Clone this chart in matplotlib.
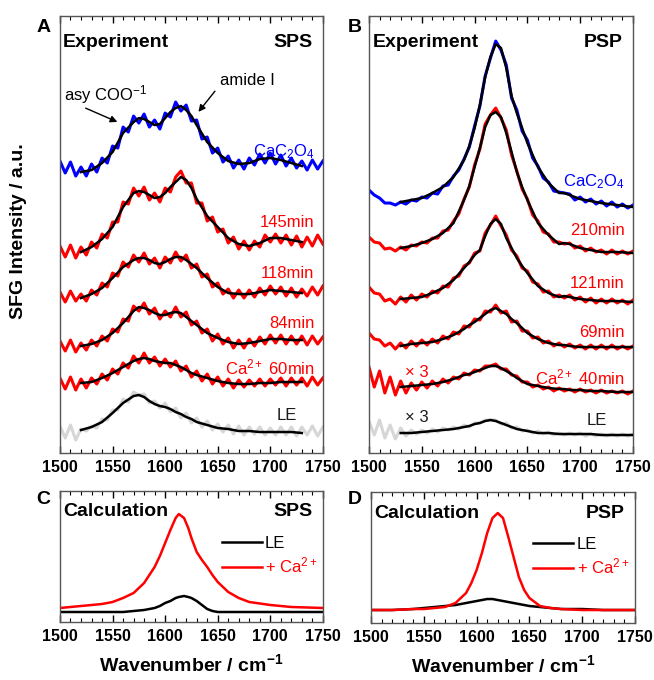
import numpy as np
import matplotlib
matplotlib.use('Agg')
import matplotlib.pyplot as plt
from matplotlib.ticker import MultipleLocator

plt.rcParams['font.family'] = ['Liberation Sans', 'DejaVu Sans']
plt.rcParams['mathtext.fontset'] = 'custom'
plt.rcParams['mathtext.rm'] = 'Liberation Sans'
plt.rcParams['mathtext.it'] = 'Liberation Sans:italic'
plt.rcParams['mathtext.bf'] = 'Liberation Sans:bold'

# ---- experimental spectra (a.u., each trace relative to its own offset) ----
wn_exp = np.arange(1500, 1751, 5)

# panel A, SPS
sps_labels = ['CaC$_2$O$_4$', '145min', '118min', '84min', 'Ca$^{2+}$ 60min', 'LE']
sps_offsets = [280, 200, 155, 107, 68, 20]
sps_exp = [
    [12, 0, 11, -3, 6, -3, 9, 1, 15, 10, 27, 25, 46, 41, 57, 50, 59, 46, 53, 44,
     60, 56, 71, 62, 68, 52, 53, 34, 36, 20, 25, 11, 17, 5, 13, 4, 15, 8, 19, 10,
     20, 9, 18, 7, 15, 5, 12, 3, 13, 4, 12],
    [7, -4, 8, -5, 6, -2, 11, 5, 19, 15, 31, 31, 51, 49, 65, 57, 66, 53, 60, 51,
     65, 61, 76, 82, 70, 70, 50, 50, 32, 36, 21, 24, 10, 16, 4, 12, 3, 12, 6, 18,
     11, 19, 10, 18, 8, 17, 6, 16, 7, 18, 9],
    [6, -4, 7, -3, 4, -3, 8, 3, 15, 11, 25, 22, 36, 31, 43, 36, 45, 34, 40, 30,
     41, 35, 46, 37, 43, 30, 34, 21, 24, 11, 15, 4, 9, 0, 8, 0, 8, 1, 10, 3,
     12, 4, 11, 2, 10, 1, 9, 2, 11, 3, 12],
    [5, -5, 6, -6, 3, -4, 6, 0, 10, 5, 17, 14, 27, 25, 40, 35, 43, 32, 38, 27,
     35, 29, 39, 29, 34, 21, 25, 13, 17, 5, 12, 2, 8, -2, 6, -2, 7, 0, 9, 2,
     11, 3, 11, 2, 10, 2, 10, 1, 10, 2, 9],
    [7, -4, 8, -5, 6, -3, 7, 1, 11, 5, 16, 11, 22, 17, 29, 22, 32, 22, 28, 19,
     26, 18, 24, 14, 19, 8, 14, 4, 11, 1, 8, -1, 6, -3, 5, -2, 5, -1, 6, -1,
     6, 0, 7, -1, 7, 0, 7, -1, 8, 0, 7],
    [7, -5, 8, -7, 4, 2, 7, 5, 14, 13, 23, 23, 34, 31, 41, 38, 39, 30, 32, 25,
     30, 21, 25, 15, 20, 10, 15, 6, 12, 3, 9, 1, 8, -1, 7, -2, 6, -1, 6, -2,
     5, -2, 6, -2, 6, -3, 6, -2, 7, -3, 6],
]
wn_fit_sps = [1520, 1530, 1540, 1550, 1560, 1570, 1575, 1580, 1585, 1590, 1595,
              1600, 1605, 1610, 1615, 1620, 1625, 1630, 1640, 1650, 1660, 1670,
              1680, 1690, 1700, 1710, 1720, 1730]
sps_fit = [
    [1, 3, 10, 21, 40, 51, 55, 54, 51, 48, 49, 55, 61, 65, 67, 63, 57, 48, 31, 20,
     12, 9, 10, 14, 15, 13, 10, 7],
    [1, 6, 14, 26, 46, 60, 62, 61, 58, 55, 56, 60, 66, 71, 76, 73, 65, 54, 37, 26,
     15, 9, 7, 10, 15, 15, 13, 11],
    [0, 4, 10, 20, 31, 38, 40, 40, 38, 35, 34, 36, 39, 41, 41, 38, 34, 30, 20, 11,
     5, 4, 4, 6, 8, 7, 6, 5],
    [0, 2, 6, 13, 23, 35, 39, 38, 36, 33, 31, 31, 33, 34, 33, 29, 25, 21, 13, 8,
     4, 2, 3, 5, 7, 7, 6, 6],
    [2, 3, 7, 12, 18, 24, 26, 27, 26, 24, 23, 22, 22, 20, 18, 15, 12, 10, 7, 4,
     2, 1, 1, 2, 2, 3, 3, 3],
    [3, 6, 11, 20, 30, 37, 38, 36, 32, 29, 27, 26, 24, 21, 19, 16, 14, 11, 8, 5,
     4, 2, 2, 1, 1, 1, 1, 0],
]

# panel B, PSP
psp_labels = ['CaC$_2$O$_4$', '210min', '121min', '69min', 'Ca$^{2+}$ 40min', 'LE']
psp_offsets = [245, 200, 150, 105, 58, 18]
psp_exp = [
    [18, 13, 10, 5, 5, 3, 6, 4, 8, 7, 11, 10, 15, 14, 22, 23, 32, 38, 49, 61,
     82, 102, 132, 150, 167, 158, 143, 110, 98, 77, 68, 50, 42, 30, 26, 17, 16, 15, 14, 8,
     11, 6, 9, 4, 7, 2, 6, 1, 4, 0, 3],
    [16, 11, 10, 4, 5, 2, 6, 3, 8, 7, 11, 10, 15, 15, 22, 23, 32, 39, 54, 66,
     88, 104, 129, 138, 145, 135, 123, 98, 82, 64, 54, 38, 32, 21, 19, 11, 11, 9, 10, 5,
     7, 2, 5, 1, 3, -1, 3, -1, 2, -1, 2],
    [16, 10, 9, 2, 4, -1, 6, 1, 8, 3, 9, 6, 12, 10, 17, 16, 25, 27, 37, 40,
     50, 52, 70, 78, 87, 77, 68, 53, 47, 35, 32, 21, 19, 11, 12, 6, 8, 5, 8, 3,
     6, 1, 5, 0, 4, 0, 4, 0, 3, -1, 3],
    [15, 9, 8, 2, 5, -1, 5, 0, 7, 2, 8, 3, 9, 5, 12, 9, 16, 14, 22, 21,
     29, 28, 37, 36, 43, 35, 37, 26, 27, 17, 17, 10, 11, 5, 7, 2, 5, 1, 4, 0,
     3, -1, 3, -1, 3, -1, 3, -1, 2, -1, 2],
    [28, 8, 24, 2, 18, 0, 14, 2, 12, 5, 13, 7, 14, 9, 16, 12, 18, 16, 22, 20,
     25, 24, 29, 29, 31, 26, 26, 20, 19, 13, 13, 8, 10, 6, 8, 4, 7, 4, 6, 3,
     6, 3, 5, 2, 5, 2, 4, 2, 4, 1, 4],
    [14, 0, 15, -3, 10, -4, 7, -1, 5, 1, 5, 2, 6, 3, 7, 5, 8, 6, 10, 8,
     12, 12, 15, 15, 15, 11, 12, 7, 8, 4, 5, 2, 4, 1, 3, 0, 2, 0, 2, 0,
     2, -1, 1, -1, 1, -1, 1, -1, 1, -1, 1],
]
wn_fit_psp = [1530, 1540, 1550, 1560, 1570, 1580, 1590, 1595, 1600, 1605, 1610,
              1615, 1620, 1625, 1630, 1635, 1640, 1645, 1650, 1660, 1670, 1680,
              1685, 1690, 1700, 1710, 1720, 1735, 1750]
psp_fit = [
    [6, 8, 10, 15, 21, 31, 48, 62, 80, 103, 131, 151, 164, 160, 140, 112, 95, 80, 65,
     41, 25, 15, 15, 13, 9, 7, 5, 3, 1],
    [5, 7, 10, 14, 20, 30, 53, 67, 86, 105, 126, 138, 141, 136, 120, 101, 81, 66, 53,
     30, 18, 9, 10, 9, 5, 3, 1, 1, 0],
    [4, 5, 6, 10, 15, 23, 35, 41, 48, 53, 67, 79, 84, 79, 65, 55, 45, 37, 30,
     17, 10, 6, 7, 6, 4, 3, 2, 2, 1],
    [2, 4, 5, 6, 9, 13, 19, 23, 26, 30, 34, 38, 40, 37, 34, 29, 25, 20, 15,
     9, 5, 3, 3, 2, 1, 1, 1, 1, 1],
    [8, 9, 10, 11, 13, 16, 20, 21, 23, 25, 27, 29, 29, 27, 24, 21, 17, 14, 11,
     9, 7, 6, 6, 5, 5, 4, 4, 3, 3],
    [2, 2, 3, 4, 5, 6, 8, 9, 11, 12, 14, 15, 14, 12, 10, 8, 6, 5, 4,
     2, 2, 1, 1, 1, 1, 1, 0, 0, 0],
]

# ---- calculated spectra ----
wn_calc_sps = [1500, 1520, 1540, 1550, 1560, 1570, 1580, 1590, 1595, 1600, 1605,
               1610, 1613, 1618, 1622, 1625, 1630, 1635, 1640, 1645, 1650, 1660,
               1670, 1680, 1700, 1720, 1750]
calc_sps_le = [10, 10, 10, 10, 10, 11, 12, 14, 16, 19, 21, 24, 25, 26, 25, 24, 21,
               17, 13, 11, 10, 10, 10, 10, 10, 10, 10]
calc_sps_ca = [14, 16, 18, 20, 24, 29, 39, 55, 66, 79, 92, 104, 108, 104, 94, 84, 70,
               62, 55, 47, 40, 30, 24, 20, 17, 15, 14]

wn_calc_psp = [1500, 1520, 1540, 1550, 1560, 1570, 1580, 1590, 1595, 1600, 1605,
               1610, 1615, 1620, 1625, 1630, 1635, 1640, 1645, 1650, 1660, 1670,
               1680, 1700, 1720, 1750]
calc_psp_le = [13, 13, 14, 15, 16, 17, 18, 20, 21, 22, 23, 24, 24, 23, 22, 21, 20,
               19, 18, 17, 16, 15, 14, 14, 13, 13]
calc_psp_ca = [13, 13, 14, 14, 15, 16, 20, 30, 40, 53, 70, 90, 105, 110, 105, 86, 66,
               46, 33, 25, 17, 15, 14, 13, 13, 13]

exp_colors = ['#0000ff', '#ff0000', '#ff0000', '#ff0000', '#ff0000', '#d6d6d6']
label_colors = ['#0000ff', '#ff0000', '#ff0000', '#ff0000', '#ff0000', '#1a1a1a']


def style_axis(ax, top_h):
    ax.set_xlim(1500, 1750)
    ax.set_ylim(0, top_h)
    ax.xaxis.set_major_locator(MultipleLocator(50))
    ax.xaxis.set_minor_locator(MultipleLocator(10))
    ax.tick_params(axis='x', which='both', direction='in', top=True, bottom=True,
                   labelsize=11.5, pad=5)
    ax.tick_params(axis='x', which='major', length=5, width=1)
    ax.tick_params(axis='x', which='minor', length=3, width=0.8)
    for t in ax.get_xticklabels():
        t.set_fontweight('bold')
    ax.set_yticks([])
    for s in ax.spines.values():
        s.set_color('#555555')
        s.set_linewidth(1.0)


fig = plt.figure(figsize=(6.54, 6.8), dpi=100)
axA = fig.add_axes([0.0917, 0.3338, 0.402, 0.6426])
axB = fig.add_axes([0.5642, 0.3338, 0.4037, 0.6426])
axC = fig.add_axes([0.0917, 0.0853, 0.402, 0.1926])
axD = fig.add_axes([0.5673, 0.0838, 0.4037, 0.1926])

# Panels A and B: stacked spectra
for ax, exp, fit, wn_fit, offs, labels, lab_y in [
        (axA, sps_exp, sps_fit, wn_fit_sps, sps_offsets, sps_labels,
         [301, 231, 180, 130, 86, 38]),
        (axB, psp_exp, psp_fit, wn_fit_psp, psp_offsets, psp_labels,
         [271, 223, 170, 121, 76, 33])]:
    for i in range(len(exp)):
        ax.plot(wn_exp, np.array(exp[i]) + offs[i], color=exp_colors[i], lw=2.2,
                zorder=2)
        ax.plot(wn_fit, np.array(fit[i]) + offs[i], color='black', lw=1.8, zorder=3)
        x_lab = 1725 if labels[i] == 'LE' else 1742
        ax.text(x_lab, lab_y[i], labels[i], color=label_colors[i], fontsize=12,
                ha='right', va='center')
    style_axis(ax, 437)

axA.text(0.012, 0.94, 'Experiment', transform=axA.transAxes, fontsize=14,
         fontweight='bold', va='center')
axA.text(0.962, 0.94, 'SPS', transform=axA.transAxes, fontsize=14,
         fontweight='bold', va='center', ha='right')
axB.text(0.015, 0.94, 'Experiment', transform=axB.transAxes, fontsize=14,
         fontweight='bold', va='center')
axB.text(0.962, 0.94, 'PSP', transform=axB.transAxes, fontsize=14,
         fontweight='bold', va='center', ha='right')

# peak assignments in A
axA.text(1543, 358, 'asy COO$^{-1}$', fontsize=12, ha='center', va='center')
axA.annotate('', xy=(1557, 330), xytext=(1522, 346),
             arrowprops=dict(arrowstyle='-|>', color='black', lw=1.0,
                             mutation_scale=10))
axA.text(1678, 373, 'amide I', fontsize=12, ha='center', va='center')
axA.annotate('', xy=(1630, 339), xytext=(1649, 364),
             arrowprops=dict(arrowstyle='-|>', color='black', lw=1.0,
                             mutation_scale=10))

# scale factors in B
axB.text(1545, 81, '× 3', color='#ff0000', fontsize=12, ha='center', va='center')
axB.text(1545, 36, '× 3', color='#1a1a1a', fontsize=12, ha='center', va='center')

# Panels C and D: calculations
for ax, wn, le, ca, name in [(axC, wn_calc_sps, calc_sps_le, calc_sps_ca, 'SPS'),
                             (axD, wn_calc_psp, calc_psp_le, calc_psp_ca, 'PSP')]:
    ax.plot(wn, le, color='black', lw=1.8, label='LE')
    ax.plot(wn, ca, color='#ff0000', lw=1.8, label='+ Ca$^{2+}$')
    style_axis(ax, 131)
    ax.text(0.012, 0.84, 'Calculation', transform=ax.transAxes, fontsize=14,
            fontweight='bold', va='center')
    ax.text(0.962, 0.84, name, transform=ax.transAxes, fontsize=14,
            fontweight='bold', va='center', ha='right')
    ax.legend(loc='upper left', bbox_to_anchor=(0.615, 0.66), frameon=False,
              fontsize=12, handlelength=2.4, handletextpad=0.2, labelspacing=0.3,
              borderpad=0, borderaxespad=0, labelcolor='linecolor')
    ax.set_xlabel('Wavenumber / cm$^{\\mathbf{-1}}$', fontsize=14,
                  fontweight='bold', labelpad=7)

# panel letters and shared y label
for letter, x, y in [('A', 0.066, 0.96), ('B', 0.543, 0.96),
                     ('C', 0.066, 0.265), ('D', 0.543, 0.265)]:
    fig.text(x, y, letter, fontsize=14, fontweight='bold', ha='center', va='center')
fig.text(0.028, 1 - 231 / 680, 'SFG Intensity / a.u.', rotation=90, fontsize=14,
         fontweight='bold', ha='center', va='center')

fig.savefig('out.png', dpi=100)
